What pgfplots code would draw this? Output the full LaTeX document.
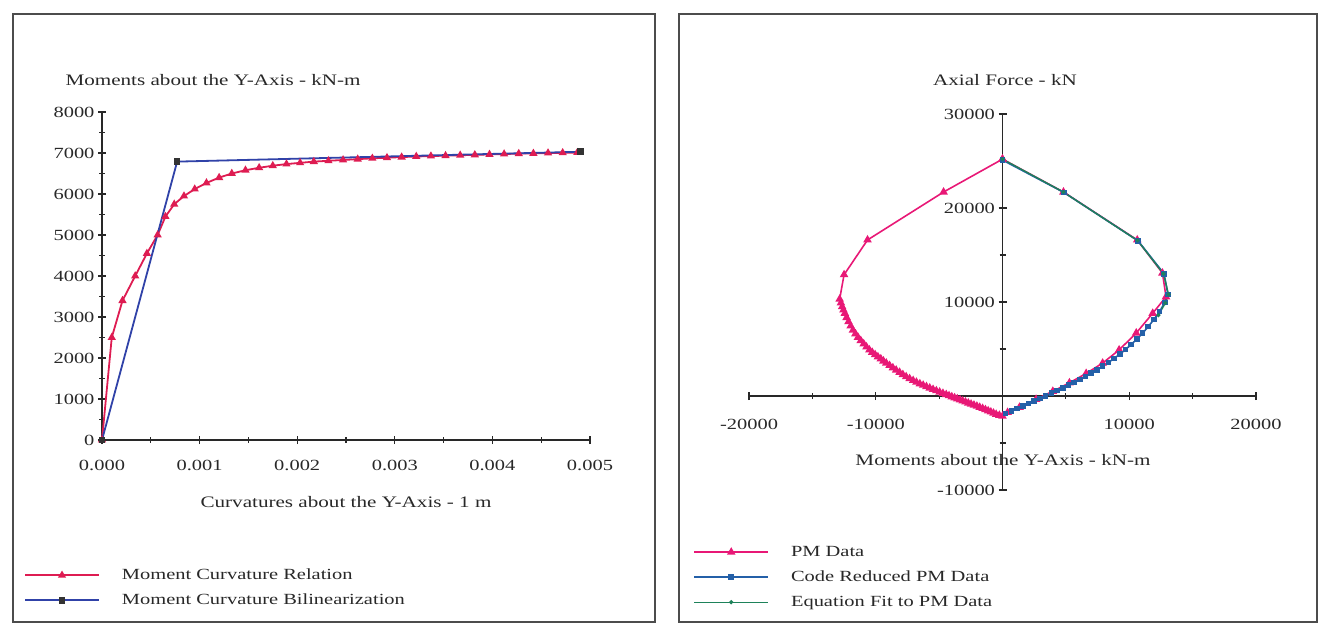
\documentclass[border=0pt]{standalone}
\usepackage{fontspec}
\setmainfont{Liberation Serif}[FakeStretch=1.32]
\usepackage{pgfplots}
\pgfplotsset{compat=1.18}
\definecolor{mcred}{RGB}{222,28,82}
\definecolor{mcblue}{RGB}{48,66,168}
\definecolor{pmred}{RGB}{232,24,118}
\definecolor{pmblue}{RGB}{36,96,168}
\definecolor{pmgreen}{RGB}{30,130,90}
\definecolor{ink}{RGB}{40,40,40}
\pgfplotsset{
  myax/.style={
    scale only axis,
    scaled x ticks=false, scaled y ticks=false,
    /pgf/number format/1000 sep={},
    /pgf/number format/assume math mode=true,
    tick align=center,
    major tick length=8pt, minor tick length=6pt,
    every tick/.style={line width=1.2pt, ink},
    tick label style={font=\fontsize{15.5}{17}\selectfont, text=ink},
    xticklabel style={yshift=-13pt},
    legend cell align=left,
    legend image code/.code={\draw[mark repeat=2,mark phase=2] plot coordinates {(0pt,0pt) (37pt,0pt) (74pt,0pt)};},
    legend style={draw=none, fill=none, inner sep=0pt, row sep=4pt,
      font=\fontsize{15.5}{17}\selectfont, text=ink,
      nodes={inner sep=3pt, text height=12pt, text depth=3pt},
      /tikz/every odd column/.append style={column sep=19pt}},
  }
}
\begin{document}
\begin{tikzpicture}[x=1pt,y=1pt]
\path[use as bounding box] (0,0) rectangle (1320,627);
\draw[line width=1.4pt, black!70] (13,5) rectangle (655,613);
\draw[line width=1.4pt, black!70] (679,5) rectangle (1317,613);

% ---------- left chart ----------
\begin{axis}[myax,
  at={(102pt,187pt)}, anchor=south west,
  width=488pt, height=328pt,
  xmin=0, xmax=0.005, ymin=0, ymax=8000,
  axis lines*=left,
  axis line style={-, line width=1.6pt, ink},
  clip=false,
  xtick={0,0.001,0.002,0.003,0.004,0.005},
  minor xtick={0.0005,0.0015,0.0025,0.0035,0.0045},
  xticklabel style={/pgf/number format/.cd, fixed, fixed zerofill, precision=3},
  ytick={0,1000,2000,3000,4000,5000,6000,7000,8000},
  minor ytick={500,1500,2500,3500,4500,5500,6500,7500},
  legend style={at={(axis description cs:-0.160,-0.380)}, anchor=north west},
]
\addplot[color=mcred, line width=1.8pt, mark=triangle*, mark size=3pt] coordinates {
(0,0) (0.0001,2500) (0.00021,3400) (0.00034,4000) (0.00046,4550) (0.00057,5000)
(0.00065,5450) (0.00074,5750) (0.00084,5950) (0.00095,6120) (0.00107,6270)
(0.00120,6400) (0.00133,6500) (0.00147,6580) (0.00161,6640) (0.00175,6690)
(0.00189,6730) (0.00203,6760) (0.00217,6790) (0.00232,6810) (0.00247,6830)
(0.00262,6850) (0.00277,6870) (0.00292,6885) (0.00307,6900) (0.00322,6915)
(0.00337,6925) (0.00352,6935) (0.00367,6945) (0.00382,6955) (0.00397,6965)
(0.00412,6975) (0.00427,6985) (0.00442,6990) (0.00457,7000) (0.00472,7005)
(0.00487,7010)};
\addlegendentry{Moment Curvature Relation}
\addplot[color=mcblue, line width=1.8pt, mark=square*, mark size=2.4pt,
  mark options={fill=black!80, draw=black!80}] coordinates {
(0,0) (0.00077,6790) (0.0049,7030)};
\addlegendentry{Moment Curvature Bilinearization}
\end{axis}

\node[anchor=west, font=\fontsize{16}{18}\selectfont, text=ink] at (62,547) {Moments about the Y-Axis - kN-m};
\node[font=\fontsize{16}{18}\selectfont, text=ink] at (346,125) {Curvatures about the Y-Axis - 1 m};

% ---------- right chart ----------
\begin{axis}[myax,
  at={(749pt,137pt)}, anchor=south west,
  width=507pt, height=376pt,
  xmin=-20000, xmax=20000, ymin=-10000, ymax=30000,
  axis lines=middle,
  axis line style={-, line width=1.6pt, ink},
  every inner x axis line/.append style={-},
  every inner y axis line/.append style={-},
  clip=false,
  xtick={-20000,-10000,10000,20000},
  minor xtick={-15000,-5000,0,5000,15000},
  ytick={-10000,10000,20000,30000},
  minor ytick={-5000,0,5000,15000,25000},
  xticklabel style={yshift=-3pt},
  legend style={at={(axis description cs:-0.110,-0.137)}, anchor=north west},
]
\addplot[color=pmred, line width=1.6pt, mark=triangle*, mark size=3.4pt] coordinates {
(0,25200) (-4650,21700) (-10650,16600) (-12500,12900)
(-12850,10300) (-12750,9900) (-12650,9500) (-12550,9150) (-12440,8800) (-12300,8350)
(-12150,7900) (-11980,7450) (-11800,7000) (-11600,6620)
(-11400,6250) (-11180,5900) (-10950,5550) (-10730,5220) (-10500,4900) (-10280,4650)
(-10050,4400) (-9830,4170) (-9600,3950) (-9390,3720)
(-9170,3500) (-8910,3250) (-8650,3000) (-8390,2760) (-8120,2520) (-7860,2280)
(-7600,2050) (-7330,1850) (-7050,1650) (-6790,1470)
(-6520,1300) (-6260,1150) (-6000,1000) (-5740,850) (-5480,700) (-5220,560)
(-4960,420) (-4700,285) (-4440,150) (-4220,35)
(-4000,-80) (-3780,-190) (-3570,-300) (-3350,-410) (-3140,-520) (-2920,-635)
(-2700,-750) (-2480,-860) (-2250,-970) (-2020,-1085)
(-1800,-1200) (-1570,-1325) (-1350,-1450) (-1130,-1575) (-920,-1700) (-710,-1825)
(-500,-1950) (-250,-2050) (0,-2150)
(400,-1750) (1340,-1200) (2650,-350) (3970,500) (5280,1400) (6600,2400)
(7900,3500) (9200,4900) (10550,6700) (11850,8800) (12900,10550)
(12620,13080) (10630,16600) (4810,21700) (0,25200)};
\addlegendentry{PM Data}
\addplot[color=pmblue, line width=1.6pt, mark=square*, mark size=2pt] coordinates {
(250,-1850) (700,-1600) (1150,-1330) (1600,-1060) (2050,-790) (2500,-520)
(2950,-250) (3400,20) (3850,290) (4300,570) (4750,860) (5200,1150)
(5650,1450) (6100,1760) (6550,2080) (7000,2420) (7450,2780) (7900,3160)
(8350,3560) (8800,3990) (9250,4450) (9700,4940) (10150,5470) (10600,6050)
(11050,6680) (11500,7380) (11950,8150) (12400,9000) (12800,9950)
(13050,10800) (12750,13000) (10700,16500) (4850,21650) (0,25100)};
\addlegendentry{Code Reduced PM Data}
\addplot[color=pmgreen, line width=1.4pt, mark=*, mark size=1.3pt] coordinates {
(12300,8600) (12850,9900) (13100,10800) (12700,13000) (10650,16550)
(4800,21700) (0,25200)};
\addlegendentry{Equation Fit to PM Data}
\end{axis}

\node[font=\fontsize{16}{18}\selectfont, text=ink] at (1005,547) {Axial Force - kN};
\node[font=\fontsize{16}{18}\selectfont, text=ink] at (1003,167) {Moments about the Y-Axis - kN-m};
\end{tikzpicture}
\end{document}
